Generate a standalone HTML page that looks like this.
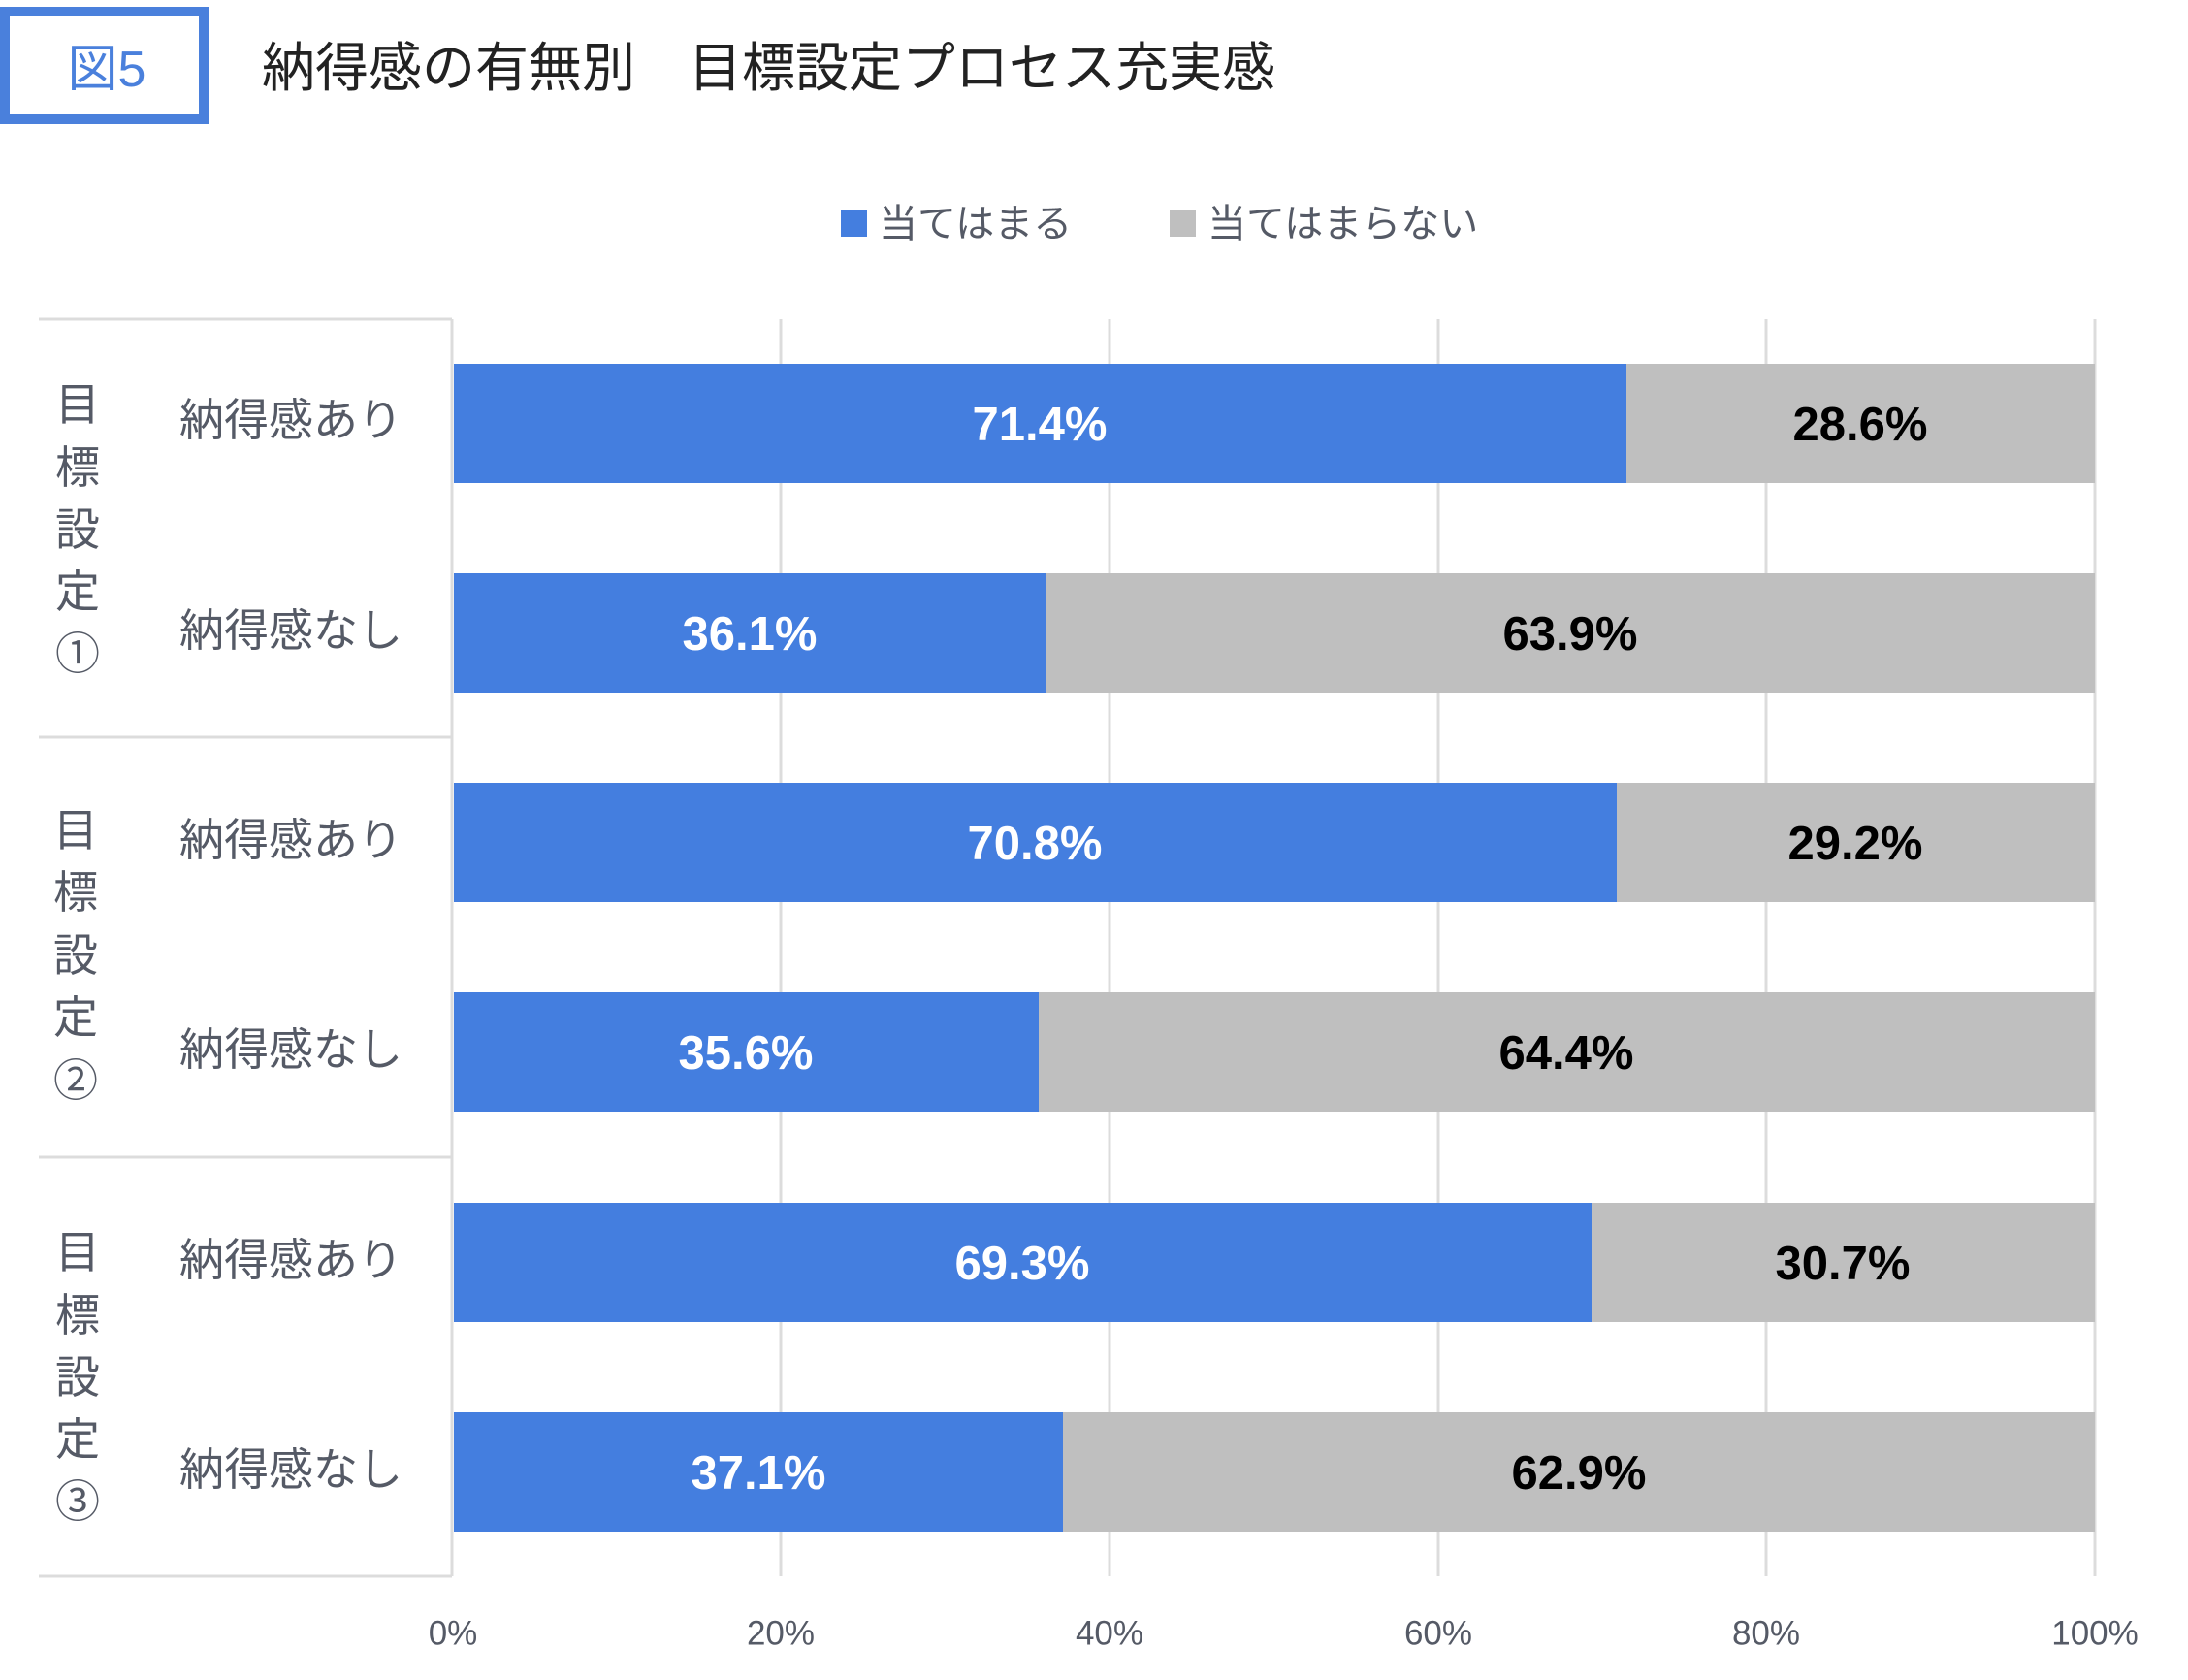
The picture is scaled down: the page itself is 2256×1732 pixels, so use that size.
<!DOCTYPE html>
<html><head><meta charset="utf-8"><style>
html,body{margin:0;padding:0;background:#fff;}
svg{display:block;}
text{font-family:"Liberation Sans","Noto Sans CJK JP",sans-serif;}
</style></head><body>
<svg width="2256" height="1732" viewBox="0 0 2256 1732" xmlns="http://www.w3.org/2000/svg">
<rect x="5" y="12" width="205" height="111" fill="none" stroke="#4a80dc" stroke-width="10"/>
<text x="110" y="72" font-size="52" fill="#4a80dc" text-anchor="middle" dominant-baseline="central">図5</text>
<text x="270" y="70" font-size="55" fill="#222" dominant-baseline="central">納得感の有無別　目標設定プロセス充実感</text>
<rect x="867" y="217" width="27" height="27" fill="#447edf"/>
<text x="906" y="231" font-size="40" fill="#555a66" dominant-baseline="central">当てはまる</text>
<rect x="1206" y="217" width="27" height="27" fill="#bfbfbf"/>
<text x="1245" y="231" font-size="40" fill="#555a66" dominant-baseline="central">当てはまらない</text>
<g stroke="#dcdcdc" stroke-width="3">
<line x1="805" y1="329" x2="805" y2="1625"/>
<line x1="1144" y1="329" x2="1144" y2="1625"/>
<line x1="1483" y1="329" x2="1483" y2="1625"/>
<line x1="1821" y1="329" x2="1821" y2="1625"/>
<line x1="2160" y1="329" x2="2160" y2="1625"/>
<line x1="466" y1="329" x2="466" y2="1625"/>
<line x1="40" y1="329" x2="466" y2="329"/>
<line x1="40" y1="760" x2="466" y2="760"/>
<line x1="40" y1="1193" x2="466" y2="1193"/>
<line x1="40" y1="1625" x2="466" y2="1625"/>
</g>
<g>
<rect x="468" y="375" width="1209" height="123" fill="#447edf"/><rect x="1677" y="375" width="483" height="123" fill="#bfbfbf"/>
<rect x="468" y="591" width="611" height="123" fill="#447edf"/><rect x="1079" y="591" width="1081" height="123" fill="#bfbfbf"/>
<rect x="468" y="807" width="1199" height="123" fill="#447edf"/><rect x="1667" y="807" width="493" height="123" fill="#bfbfbf"/>
<rect x="468" y="1023" width="603" height="123" fill="#447edf"/><rect x="1071" y="1023" width="1089" height="123" fill="#bfbfbf"/>
<rect x="468" y="1240" width="1173" height="123" fill="#447edf"/><rect x="1641" y="1240" width="519" height="123" fill="#bfbfbf"/>
<rect x="468" y="1456" width="628" height="123" fill="#447edf"/><rect x="1096" y="1456" width="1064" height="123" fill="#bfbfbf"/>
</g>
<g font-size="49" font-weight="bold" text-anchor="middle" dominant-baseline="central">
<text x="1072" y="438" fill="#fff">71.4%</text><text x="1918" y="438" fill="#000">28.6%</text>
<text x="773" y="654" fill="#fff">36.1%</text><text x="1619" y="654" fill="#000">63.9%</text>
<text x="1067" y="870" fill="#fff">70.8%</text><text x="1913" y="870" fill="#000">29.2%</text>
<text x="769" y="1086" fill="#fff">35.6%</text><text x="1615" y="1086" fill="#000">64.4%</text>
<text x="1054" y="1303" fill="#fff">69.3%</text><text x="1900" y="1303" fill="#000">30.7%</text>
<text x="782" y="1519" fill="#fff">37.1%</text><text x="1628" y="1519" fill="#000">62.9%</text>
</g>
<g font-size="46" fill="#555a66" dominant-baseline="central">
<text x="185" y="433">納得感あり</text>
<text x="185" y="650">納得感なし</text>
<text x="185" y="866">納得感あり</text>
<text x="185" y="1082">納得感なし</text>
<text x="185" y="1299">納得感あり</text>
<text x="185" y="1515">納得感なし</text>
</g>
<g font-size="46" fill="#555a66" text-anchor="middle" dominant-baseline="central">
<text x="80" y="417">目</text><text x="80" y="482">標</text><text x="80" y="546">設</text><text x="80" y="610">定</text><text x="80" y="674">①</text>
<text x="78" y="856">目</text><text x="78" y="920">標</text><text x="78" y="985">設</text><text x="78" y="1049">定</text><text x="78" y="1114">②</text>
<text x="80" y="1291">目</text><text x="80" y="1356">標</text><text x="80" y="1420">設</text><text x="80" y="1484">定</text><text x="80" y="1548">③</text>
</g>
<g font-size="35" fill="#555a66" text-anchor="middle" dominant-baseline="central">
<text x="467" y="1684">0%</text><text x="805" y="1684">20%</text><text x="1144" y="1684">40%</text>
<text x="1483" y="1684">60%</text><text x="1821" y="1684">80%</text><text x="2160" y="1684">100%</text>
</g>
</svg>
</body></html>
